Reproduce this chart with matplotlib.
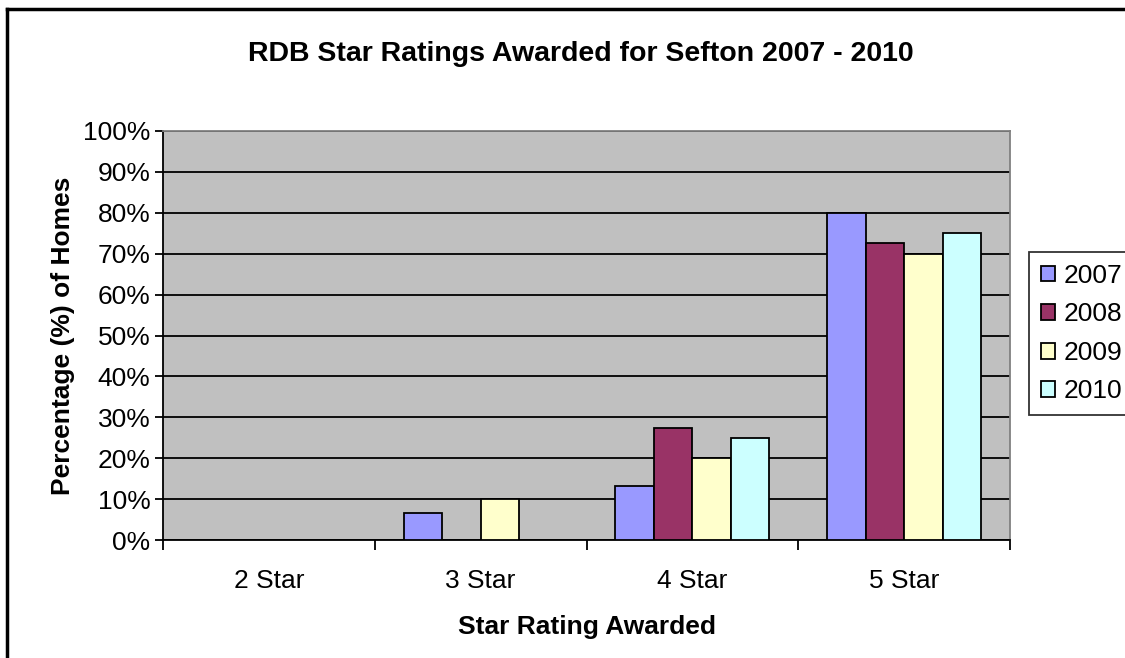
import matplotlib.pyplot as plt
import numpy as np
from matplotlib.lines import Line2D

# data
categories = ['2 Star', '3 Star', '4 Star', '5 Star']
years = ['2007', '2008', '2009', '2010']
v2007 = [0, 6.7, 13.3, 80.0]
v2008 = [0, 0, 27.3, 72.7]
v2009 = [0, 10.0, 20.0, 70.0]
v2010 = [0, 0, 25.0, 75.0]
colors = ['#9999ff', '#993366', '#ffffcc', '#ccffff']

plt.rcParams['font.family'] = ['Liberation Sans', 'DejaVu Sans']

fig = plt.figure(figsize=(11.25, 6.58), dpi=100)
ax = fig.add_axes([163 / 1125, 1 - 540 / 658, (1010 - 163) / 1125, (540 - 131) / 658])
ax.set_facecolor('#c0c0c0')

index = np.arange(len(categories))
w = 0.182
series = [v2007, v2008, v2009, v2010]
for i, vals in enumerate(series):
    vals = np.array(vals)
    mask = vals > 0
    ax.bar(index[mask] + (i - 1.5) * w, vals[mask], w, color=colors[i],
           edgecolor='black', linewidth=1.3, label=years[i], zorder=3)

ax.set_xlim(-0.5, 3.5)
ax.set_ylim(0, 100)
ax.set_yticks(range(0, 101, 10))
ax.set_yticklabels([f'{t}%' for t in range(0, 101, 10)], fontsize=19)
ax.yaxis.grid(True, color='black', linewidth=1.3, zorder=1)
ax.set_axisbelow(True)
ax.tick_params(axis='y', direction='out', length=6, width=1.3, pad=3)

ax.set_xticks(index)
ax.set_xticklabels(categories, fontsize=19)
ax.tick_params(axis='x', length=0, pad=21)
ax.set_xticks(np.arange(-0.5, 4, 1), minor=True)
ax.tick_params(axis='x', which='minor', direction='out', length=7, width=1.3)

for s in ['left', 'bottom']:
    ax.spines[s].set_linewidth(1.3)
for s in ['top', 'right']:
    ax.spines[s].set_color('#808080')
    ax.spines[s].set_linewidth(1.3)

ax.set_xlabel('Star Rating Awarded', fontsize=19, fontweight='bold', labelpad=16)
ax.set_ylabel('Percentage (%) of Homes', fontsize=19, fontweight='bold', labelpad=6)
fig.text(581 / 1125, 1 - 54 / 658, 'RDB Star Ratings Awarded for Sefton 2007 - 2010',
         ha='center', va='center', fontsize=20.5, fontweight='bold')

leg = ax.legend(loc='upper left', bbox_to_anchor=(1029 / 1125, 1 - 252 / 658),
                bbox_transform=fig.transFigure, fontsize=19, frameon=True,
                fancybox=False, edgecolor='black', handlelength=0.55, handleheight=0.55,
                handletextpad=0.33, borderpad=0.45, labelspacing=0.55, borderaxespad=0)
leg.get_frame().set_linewidth(1.3)

# outer chart border
fig.add_artist(Line2D([7 / 1125, 7 / 1125], [0, 1 - 9 / 658], color='black', linewidth=2.5,
                      transform=fig.transFigure))
fig.add_artist(Line2D([7 / 1125, 1], [1 - 9 / 658, 1 - 9 / 658], color='black', linewidth=2.5,
                      transform=fig.transFigure))

fig.savefig('out.png', dpi=100)
